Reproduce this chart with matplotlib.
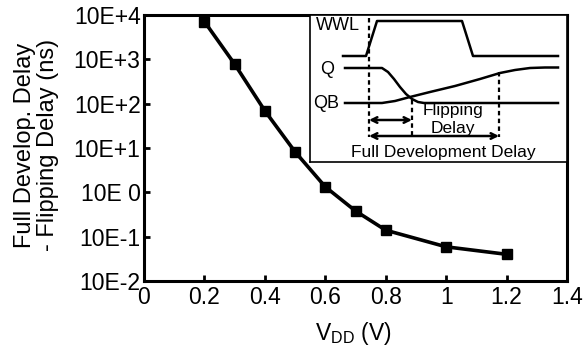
import matplotlib
matplotlib.use("Agg")
import matplotlib.pyplot as plt

plt.rcParams['font.family'] = ['Liberation Sans', 'DejaVu Sans']
plt.rcParams['mathtext.fontset'] = 'custom'
plt.rcParams['mathtext.rm'] = 'Liberation Sans'
plt.rcParams['mathtext.it'] = 'Liberation Sans:italic'

# ---- data ----
vdd = [0.2, 0.3, 0.4, 0.5, 0.6, 0.7, 0.8, 1.0, 1.2]
delay_diff = [7100, 780, 69, 8.2, 1.33, 0.38, 0.14, 0.059, 0.040]

x_ticks = [0, 0.2, 0.4, 0.6, 0.8, 1.0, 1.2, 1.4]
x_tick_labels = ["0", "0.2", "0.4", "0.6", "0.8", "1", "1.2", "1.4"]
y_ticks = [1e4, 1e3, 1e2, 1e1, 1e0, 1e-1, 1e-2]
y_tick_labels = ["10E+4", "10E+3", "10E+2", "10E+1", "10E 0", "10E-1", "10E-2"]

# schematic waveforms for the inset (schematic units)
wwl_t = [343, 366, 377, 462, 473, 558]
wwl_v = [56, 56, 21, 21, 56, 56]
q_t = [345, 382, 388, 394, 400, 406, 412, 418, 424, 558]
q_v = [68, 68, 72, 79, 87, 94, 99, 102, 103, 103]
qb_t = [345, 382, 395, 410, 430, 455, 480, 500, 515, 530, 545, 558]
qb_v = [103, 103, 101, 97, 92, 86, 79, 73, 70, 68, 67.5, 67.5]
dash_x = [369, 412, 499]
dash_top = [18, 100, 72]
dash_bottom = 137

fig = plt.figure(figsize=(5.85, 3.46), dpi=100)
ax = fig.add_axes([144/585, 1-281/346, (567-144)/585, (281-15)/346])

ax.plot(vdd, delay_diff, color='black', lw=2.6, marker='s', ms=7.5, zorder=3)
ax.set_yscale('log')
ax.set_xlim(0, 1.4)
ax.set_ylim(1e-2, 1e4)
ax.set_xticks(x_ticks)
ax.set_xticklabels(x_tick_labels, fontsize=16.5)
ax.set_yticks(y_ticks)
ax.set_yticklabels(y_tick_labels, fontsize=16.5)
ax.minorticks_off()
ax.tick_params(direction='in', length=4.5, width=2)
ax.tick_params(axis='x', pad=3.5)
ax.tick_params(axis='y', pad=2.5)
for s in ax.spines.values():
    s.set_linewidth(2.2)

ax.set_ylabel("Full Develop. Delay\n- Flipping Delay (ns)", fontsize=17,
              linespacing=1.1)
ax.yaxis.set_label_coords(-0.2, 0.51)
ax.set_xlabel(r"V$_{\mathrm{DD}}$ (V)", fontsize=16.5)
ax.xaxis.set_label_coords(0.494, -0.145)

# ---- inset schematic ----
ins = fig.add_axes([310/585, 1-162/346, (567-310)/585, (162-15)/346])
ins.set_xlim(310, 567)
ins.set_ylim(162, 15)
ins.set_xticks([])
ins.set_yticks([])
for s in ins.spines.values():
    s.set_linewidth(1.2)

ins.plot(wwl_t, wwl_v, color='black', lw=1.8)
ins.plot(q_t, q_v, color='black', lw=1.8)
ins.plot(qb_t, qb_v, color='black', lw=1.8)
for dx, dt in zip(dash_x, dash_top):
    ins.plot([dx, dx], [dt, dash_bottom], color='black', lw=1.6, ls=(0, (2, 1.5)))

ins.annotate("", xy=(dash_x[0], 120), xytext=(dash_x[1], 120),
             arrowprops=dict(arrowstyle='<->', lw=1.8, color='black', shrinkA=0, shrinkB=0))
ins.annotate("", xy=(dash_x[0], 136), xytext=(dash_x[2], 136),
             arrowprops=dict(arrowstyle='<->', lw=1.8, color='black', shrinkA=0, shrinkB=0))

ins.text(316, 25, "WWL", fontsize=13, va='center', ha='left')
ins.text(320, 70, "Q", fontsize=13, va='center', ha='left')
ins.text(313, 103, "QB", fontsize=13, va='center', ha='left')
ins.text(453, 110, "Flipping", fontsize=12.5, va='center', ha='center')
ins.text(453, 128, "Delay", fontsize=12.5, va='center', ha='center')
ins.text(443, 152, "Full Development Delay", fontsize=12.5, va='center', ha='center')

fig.savefig("out.png", dpi=100)
